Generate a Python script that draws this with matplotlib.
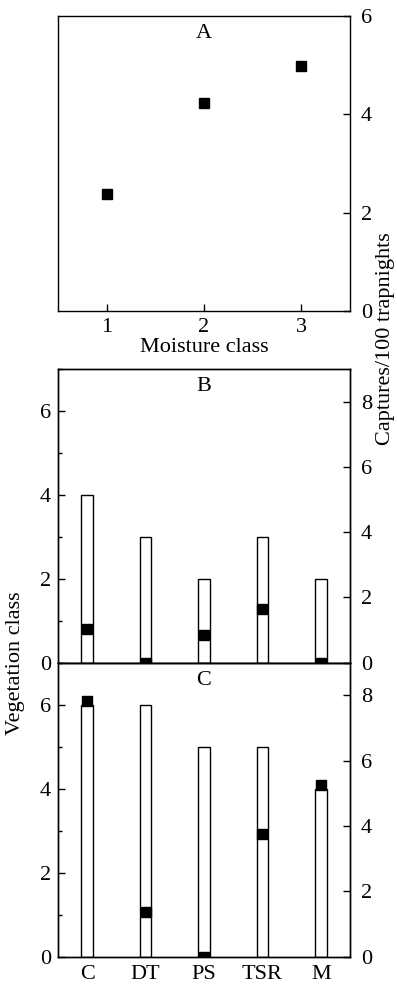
import matplotlib
matplotlib.use("Agg")
import matplotlib.pyplot as plt
from matplotlib.ticker import MultipleLocator

plt.rcParams['font.family'] = ['Liberation Serif', 'DejaVu Serif']
plt.rcParams['font.size'] = 16
plt.rcParams['axes.linewidth'] = 1.0

# panel A: captures by moisture class
moisture = [1, 2, 3]
captures_moisture = [2.38, 4.24, 4.99]

# panels B and C: vegetation classes
veg_names = ['C', 'DT', 'PS', 'TSR', 'M']
veg_x = [1, 2, 3, 4, 5]
veg_class_b = [4, 3, 2, 3, 2]
captures_b = [1.03, 0.0, 0.84, 1.65, 0.0]
veg_class_c = [6, 6, 5, 5, 4]
captures_c = [7.82, 1.38, 0.0, 3.75, 5.27]

fig = plt.figure(figsize=(3.97, 9.84), dpi=100)

left, width = 0.1461, 0.7355
axA = fig.add_axes([left, 0.6839, width, 0.2998])
axB = fig.add_axes([left, 0.3265, width, 0.2985])
axC = fig.add_axes([left, 0.0277, width, 0.2988])

# ---- panel A
axA.plot(moisture, captures_moisture, linestyle='none', marker='s',
         color='black', markersize=7.5)
axA.set_xlim(0.5, 3.5)
axA.set_ylim(0, 6)
axA.set_xticks(moisture)
axA.set_yticks([0, 2, 4, 6])
axA.yaxis.tick_right()
axA.tick_params(direction='in', length=5, width=1.0)
axA.tick_params(axis='y', pad=8)
axA.tick_params(axis='x', pad=5)
axA.set_xlabel('Moisture class', labelpad=1)
axA.text(0.5, 0.94, 'A', transform=axA.transAxes, ha='center', va='center')


def veg_panel(ax, classes, captures, label):
    ax.bar(veg_x, classes, width=0.2, color='white', edgecolor='black',
           linewidth=1.0)
    ax.set_xlim(0.5, 5.5)
    ax.set_ylim(0, 7)
    ax.yaxis.set_major_locator(MultipleLocator(2))
    ax.yaxis.set_minor_locator(MultipleLocator(1))
    ax.tick_params(axis='y', which='major', direction='in', length=5,
                   width=1.0, pad=5)
    ax.tick_params(axis='y', which='minor', direction='in', length=3,
                   width=1.0)
    ax.set_xticks(veg_x)
    ax.tick_params(axis='x', length=0, pad=6)
    tw = ax.twinx()
    tw.plot(veg_x, captures, linestyle='none', marker='s', color='black',
            markersize=7.5)
    tw.set_ylim(0, 9)
    tw.set_yticks([0, 2, 4, 6, 8])
    tw.tick_params(axis='y', direction='in', length=5, width=1.0, pad=8)
    ax.text(0.5, 0.94, label, transform=ax.transAxes, ha='center',
            va='center')
    return tw


veg_panel(axB, veg_class_b, captures_b, 'B')
axB.set_xticklabels([])
veg_panel(axC, veg_class_c, captures_c, 'C')
axC.set_xticklabels(veg_names)

fig.text(0.040, 0.326, 'Vegetation class', rotation=90, ha='center',
         va='center')
fig.text(0.970, 0.6555, 'Captures/100 trapnights', rotation=90,
         ha='center', va='center')

fig.savefig('out.png', dpi=100)
